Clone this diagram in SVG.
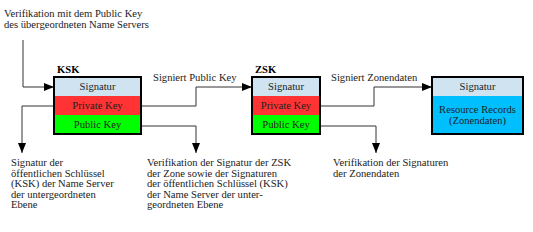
<svg xmlns="http://www.w3.org/2000/svg" width="533" height="232" viewBox="0 0 533 232">
<style>
text{font-family:"Liberation Serif","Times New Roman",serif;font-size:10.6px;fill:#222}
.b{font-weight:bold;fill:#000}
.c{text-anchor:middle}
.box{fill:none;stroke:#000;stroke-width:2}
.ln{fill:none;stroke:#333;stroke-width:1}
</style>
<defs>
<marker id="ah" markerWidth="10" markerHeight="8" refX="10" refY="4" orient="auto" markerUnits="userSpaceOnUse">
<path d="M0,0 L10,4 L0,8 Z" fill="#000"/>
</marker>
</defs>
<rect width="533" height="232" fill="#fff"/>
<text x="4" y="17">Verifikation mit dem Public Key</text>
<text x="4" y="28">des übergeordneten Name Servers</text>
<g id="connectors">
<path class="ln" d="M23,40 V87 H54" marker-end="url(#ah)"/>
<path class="ln" d="M54,106 H22 V153" marker-end="url(#ah)"/>
<path class="ln" d="M141,106 H196 V87 H252" marker-end="url(#ah)"/>
<path class="ln" d="M141,126 H196 V153" marker-end="url(#ah)"/>
<path class="ln" d="M320,106 H374 V87 H432" marker-end="url(#ah)"/>
<path class="ln" d="M320,126 H376 V153" marker-end="url(#ah)"/>
<text x="153" y="81">Signiert Public Key</text>
<text x="331" y="81">Signiert Zonendaten</text>
</g>
<g id="ksk">
<text class="b" x="57" y="73">KSK</text>
<rect x="54" y="77" width="87" height="19" fill="#cfe4f0"/>
<rect x="54" y="96" width="87" height="19" fill="#ff3333"/>
<rect x="54" y="115" width="87" height="19" fill="#00ff00"/>
<rect class="box" x="54" y="77" width="87" height="57"/>
<text class="c" x="97.5" y="90">Signatur</text>
<text class="c" x="97.5" y="109">Private Key</text>
<text class="c" x="97.5" y="128">Public Key</text>
</g>
<g id="zsk">
<text class="b" x="255" y="73">ZSK</text>
<rect x="252" y="77" width="68" height="19" fill="#cfe4f0"/>
<rect x="252" y="96" width="68" height="19" fill="#ff3333"/>
<rect x="252" y="115" width="68" height="19" fill="#00ff00"/>
<rect class="box" x="252" y="77" width="68" height="57"/>
<text class="c" x="286" y="90">Signatur</text>
<text class="c" x="286" y="109">Private Key</text>
<text class="c" x="286" y="128">Public Key</text>
</g>
<g id="zone">
<rect x="432" y="77" width="91" height="19" fill="#cfe4f0"/>
<rect x="432" y="96" width="91" height="38" fill="#00bfff"/>
<rect class="box" x="432" y="77" width="91" height="57"/>
<text class="c" x="477.5" y="90">Signatur</text>
<text class="c" x="477.5" y="113">Resource Records</text>
<text class="c" x="477.5" y="124">(Zonendaten)</text>
</g>
<g id="note-ksk">
<text x="11" y="166">Signatur der</text>
<text x="11" y="176.5">öffentlichen Schlüssel</text>
<text x="11" y="187">(KSK) der Name Server</text>
<text x="11" y="197.5">der untergeordneten</text>
<text x="11" y="208">Ebene</text>
</g>
<g id="note-zsk">
<text x="147" y="166">Verifikation der Signatur der ZSK</text>
<text x="147" y="176.5">der Zone sowie der Signaturen</text>
<text x="147" y="187">der öffentlichen Schlüssel (KSK)</text>
<text x="147" y="197.5">der Name Server der unter-</text>
<text x="147" y="208">geordneten Ebene</text>
</g>
<g id="note-zone">
<text x="333" y="166">Verifikation der Signaturen</text>
<text x="333" y="176.5">der Zonendaten</text>
</g>
</svg>
